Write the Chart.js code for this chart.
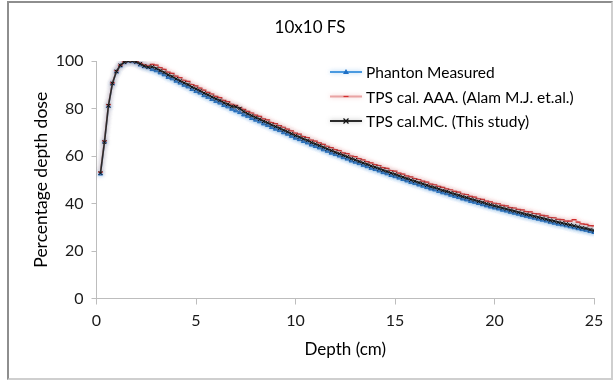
<!DOCTYPE html>
<html>
<head>
<meta charset="utf-8">
<title>10x10 FS</title>
<script src="https://cdn.jsdelivr.net/npm/chart.js"></script>
<style>
  html, body { margin: 0; padding: 0; background: #fff; }
  #frame {
    position: absolute; left: 7px; top: 1px; width: 602px; height: 375px;
    border-left: 2px solid #8e8e8e; border-top: 2px solid #8e8e8e;
    border-right: 2px solid #cfcfcf; border-bottom: 2px solid #cfcfcf;
  }
  #mycanvas { position: absolute; left: 0; top: 0; }
</style>
</head>
<body>
<div id="frame"></div>
<canvas id="mycanvas" width="613" height="381"></canvas>
<script>
// depth in cm
var depth = [0.2, 0.4, 0.6, 0.8, 1.0, 1.2, 1.4, 1.6, 1.8, 2.0,
  2.2, 2.4, 2.6, 2.8, 3.0, 3.2, 3.4, 3.6, 3.8, 4.0,
  4.2, 4.4, 4.6, 4.8, 5.0, 5.2, 5.4, 5.6, 5.8, 6.0,
  6.2, 6.4, 6.6, 6.8, 7.0, 7.2, 7.4, 7.6, 7.8, 8.0,
  8.2, 8.4, 8.6, 8.8, 9.0, 9.2, 9.4, 9.6, 9.8, 10.0,
  10.2, 10.4, 10.6, 10.8, 11.0, 11.2, 11.4, 11.6, 11.8, 12.0,
  12.2, 12.4, 12.6, 12.8, 13.0, 13.2, 13.4, 13.6, 13.8, 14.0,
  14.2, 14.4, 14.6, 14.8, 15.0, 15.2, 15.4, 15.6, 15.8, 16.0,
  16.2, 16.4, 16.6, 16.8, 17.0, 17.2, 17.4, 17.6, 17.8, 18.0,
  18.2, 18.4, 18.6, 18.8, 19.0, 19.2, 19.4, 19.6, 19.8, 20.0,
  20.2, 20.4, 20.6, 20.8, 21.0, 21.2, 21.4, 21.6, 21.8, 22.0,
  22.2, 22.4, 22.6, 22.8, 23.0, 23.2, 23.4, 23.6, 23.8, 24.0,
  24.2, 24.4, 24.6, 24.8, 25.0];

var measured = [52.5, 66.0, 81.0, 90.5, 95.5, 98.0, 99.4, 100.0, 99.8, 99.4,
  98.4, 97.7, 97.3, 96.5, 96.0, 95.1, 94.3, 93.2, 92.6, 91.6,
  90.8, 89.9, 89.2, 88.1, 87.3, 86.6, 85.5, 84.8, 83.9, 83.1,
  82.4, 81.4, 80.8, 79.8, 79.1, 78.4, 77.4, 76.8, 75.9, 75.2,
  74.5, 73.6, 73.0, 72.1, 71.4, 70.8, 69.9, 69.3, 68.4, 67.6,
  67.0, 66.2, 65.6, 64.7, 64.1, 63.5, 62.7, 62.1, 61.3, 60.7,
  60.1, 59.4, 58.8, 58.0, 57.5, 56.9, 56.2, 55.6, 54.9, 54.4,
  53.8, 53.1, 52.6, 51.9, 51.4, 50.8, 50.2, 49.6, 49.0, 48.5,
  47.9, 47.4, 46.8, 46.2, 45.8, 45.2, 44.6, 44.2, 43.6, 43.1,
  42.6, 42.0, 41.6, 41.0, 40.6, 40.1, 39.6, 39.1, 38.6, 38.2,
  37.8, 37.3, 36.9, 36.4, 36.0, 35.6, 35.1, 34.7, 34.3, 33.9,
  33.5, 33.1, 32.7, 32.2, 31.8, 31.4, 31.1, 30.7, 30.3, 29.9,
  29.5, 29.1, 28.8, 28.3, 27.9];

var tpsAAA = [53.2, 66.4, 81.6, 90.8, 95.9, 98.3, 99.6, 100.0, 100.1, 99.7,
  99.0, 98.4, 98.0, 98.6, 98.3, 97.2, 96.5, 95.3, 94.8, 93.6,
  93.0, 91.9, 91.4, 90.1, 89.5, 88.6, 87.7, 86.8, 86.1, 85.1,
  84.6, 83.4, 82.9, 81.8, 81.3, 80.4, 79.6, 78.8, 78.1, 77.2,
  76.7, 75.6, 75.2, 74.1, 73.6, 72.8, 72.1, 71.3, 70.6, 69.6,
  69.2, 68.2, 67.8, 66.7, 66.3, 65.5, 64.9, 64.1, 63.5, 62.7,
  62.3, 61.3, 61.0, 60.0, 59.7, 58.9, 58.4, 57.6, 57.1, 56.4,
  56.0, 55.1, 54.8, 53.9, 53.6, 52.8, 52.4, 51.6, 51.2, 50.5,
  50.1, 49.4, 49.0, 48.2, 47.9, 47.2, 46.8, 46.2, 45.8, 45.1,
  44.8, 44.0, 43.8, 43.0, 42.7, 42.0, 41.7, 41.0, 40.7, 40.1,
  39.9, 39.2, 39.0, 38.3, 38.1, 37.5, 37.3, 36.6, 36.5, 35.8,
  35.6, 35.0, 34.8, 34.1, 34.0, 33.3, 33.2, 32.6, 32.6, 33.2,
  32.2, 31.4, 31.2, 30.7, 30.6];

var tpsMC = [52.8, 65.8, 81.2, 90.6, 95.6, 98.2, 99.5, 100.0, 100.0, 99.6,
  98.8, 97.9, 97.4, 97.6, 96.9, 96.0, 95.2, 94.2, 93.5, 92.5,
  91.7, 90.8, 90.1, 89.0, 88.3, 87.5, 86.5, 85.8, 84.9, 84.1,
  83.4, 82.4, 81.8, 80.9, 80.7, 80.0, 78.7, 77.8, 77.0, 76.2,
  75.5, 74.6, 74.0, 73.1, 72.4, 71.7, 70.9, 70.2, 69.4, 68.6,
  68.0, 67.2, 66.6, 65.7, 65.1, 64.4, 63.7, 63.0, 62.3, 61.6,
  61.0, 60.3, 59.7, 58.9, 58.4, 57.7, 57.1, 56.5, 55.8, 55.3,
  54.7, 54.0, 53.5, 52.8, 52.3, 51.7, 51.1, 50.5, 49.9, 49.4,
  48.8, 48.3, 47.7, 47.1, 46.7, 46.1, 45.5, 45.1, 44.5, 44.0,
  43.5, 42.9, 42.5, 41.9, 41.5, 40.9, 40.5, 39.9, 39.5, 39.0,
  38.6, 38.1, 37.7, 37.2, 36.8, 36.3, 35.9, 35.4, 35.1, 34.6,
  34.2, 33.8, 33.4, 32.9, 32.6, 32.1, 31.8, 31.4, 31.0, 30.6,
  30.2, 29.8, 29.5, 29.0, 28.6];

var seriesNames = ['Phanton Measured', 'TPS cal. AAA. (Alam M.J. et.al.)', 'TPS cal.MC. (This study)'];
var chartTitle = '10x10 FS';
var xTitle = 'Depth (cm)';
var yTitle = 'Percentage depth dose';

var FONT = 'Lato, "Open Sans", sans-serif';

function toPoints(ys) {
  var pts = [];
  for (var i in depth) {
    pts.push({x: depth[i], y: ys[i]});
  }
  return pts;
}

// soft halo under each line, like the excel glow
var glow = ['rgba(110,175,235,0.6)', 'rgba(235,150,150,0.55)', 'rgba(120,120,120,0.5)'];

var glowPlugin = {
  id: 'glow',
  beforeDatasetDraw: function(chart, args) {
    var ctx = chart.ctx;
    ctx.save();
    ctx.shadowColor = glow[args.index];
    ctx.shadowBlur = 4;
  },
  afterDatasetDraw: function(chart) {
    chart.ctx.restore();
  }
};

function drawMarker(ctx, style, x, y, color) {
  ctx.save();
  ctx.strokeStyle = color;
  ctx.fillStyle = color;
  ctx.lineWidth = 1.2;
  ctx.beginPath();
  if (style === 'triangle') {
    ctx.moveTo(x, y - 3);
    ctx.lineTo(x + 3, y + 2);
    ctx.lineTo(x - 3, y + 2);
    ctx.closePath();
    ctx.fill();
  } else if (style === 'line') {
    ctx.moveTo(x - 2.5, y);
    ctx.lineTo(x + 2.5, y);
    ctx.stroke();
  } else {
    ctx.moveTo(x - 2.5, y - 2.5);
    ctx.lineTo(x + 2.5, y + 2.5);
    ctx.moveTo(x + 2.5, y - 2.5);
    ctx.lineTo(x - 2.5, y + 2.5);
    ctx.stroke();
  }
  ctx.restore();
}

var legendRows = [72, 96.5, 121];

var decorPlugin = {
  id: 'decor',
  afterDraw: function(chart) {
    var ctx = chart.ctx;
    ctx.save();
    // title
    ctx.fillStyle = '#000';
    ctx.font = '17px ' + FONT;
    ctx.textAlign = 'center';
    ctx.textBaseline = 'middle';
    ctx.fillText(chartTitle, 310, 28);

    // legend
    ctx.font = '15.5px ' + FONT;
    ctx.textAlign = 'left';
    chart.data.datasets.forEach(function(ds, i) {
      var y = legendRows[i];
      ctx.save();
      ctx.shadowColor = glow[i];
      ctx.shadowBlur = 4;
      ctx.strokeStyle = ds.borderColor;
      ctx.lineWidth = 2;
      ctx.beginPath();
      ctx.moveTo(330, y);
      ctx.lineTo(362, y);
      ctx.stroke();
      ctx.restore();
      drawMarker(ctx, ds.pointStyle, 346, y, ds.pointBorderColor);
      ctx.fillStyle = '#000';
      ctx.fillText(ds.label, 366, y + 1);
    });
    ctx.restore();
  }
};

var chartdata = {
  datasets: [
    {
      label: seriesNames[0],
      data: toPoints(measured),
      borderColor: '#4a9ae0',
      borderWidth: 1.6,
      pointStyle: 'triangle',
      pointRadius: 2.5,
      pointBackgroundColor: '#1f6fc4',
      pointBorderColor: '#1f6fc4',
      pointBorderWidth: 1,
      order: 3
    },
    {
      label: seriesNames[1],
      data: toPoints(tpsAAA),
      borderColor: '#e9a3a3',
      borderWidth: 1.6,
      pointStyle: 'line',
      pointRadius: 2.5,
      pointBackgroundColor: '#d22f2f',
      pointBorderColor: '#d22f2f',
      pointBorderWidth: 1.2,
      order: 2
    },
    {
      label: seriesNames[2],
      data: toPoints(tpsMC),
      borderColor: '#2b2b2b',
      borderWidth: 1.6,
      pointStyle: 'crossRot',
      pointRadius: 2.5,
      pointBackgroundColor: '#111',
      pointBorderColor: '#111',
      pointBorderWidth: 1,
      order: 1
    }
  ]
};

var axisColor = '#bdbdbd';

var ctx = document.getElementById('mycanvas');
var chart = new Chart(ctx, {
  type: 'line',
  data: chartdata,
  options: {
    responsive: false,
    animation: false,
    events: [],
    layout: { padding: { top: 61, left: 0, right: 19, bottom: 0 } },
    plugins: {
      legend: { display: false },
      title: { display: false },
      tooltip: { enabled: false }
    },
    scales: {
      x: {
        type: 'linear',
        min: 0,
        max: 25,
        border: { display: true, color: axisColor, width: 1 },
        grid: { drawOnChartArea: false, drawTicks: true, tickLength: 6, color: axisColor },
        ticks: { stepSize: 5, color: '#1a1a1a', padding: 7, font: { family: FONT, size: 16 } },
        title: { display: true, text: xTitle, color: '#000', padding: { top: 0, bottom: 21 }, font: { family: FONT, size: 17 } },
        afterFit: function(scale) { scale.height = 82.5; }
      },
      y: {
        min: 0,
        max: 100,
        border: { display: true, color: axisColor, width: 1 },
        grid: { drawOnChartArea: false, drawTicks: true, tickLength: 5, color: axisColor },
        ticks: { stepSize: 20, color: '#1a1a1a', padding: 8, font: { family: FONT, size: 16 } },
        title: { display: true, text: yTitle, color: '#000', padding: { top: 31, bottom: 0 }, font: { family: FONT, size: 17.5 } },
        afterFit: function(scale) { scale.width = 96.5; }
      }
    }
  },
  plugins: [glowPlugin, decorPlugin]
});
</script>
</body>
</html>
